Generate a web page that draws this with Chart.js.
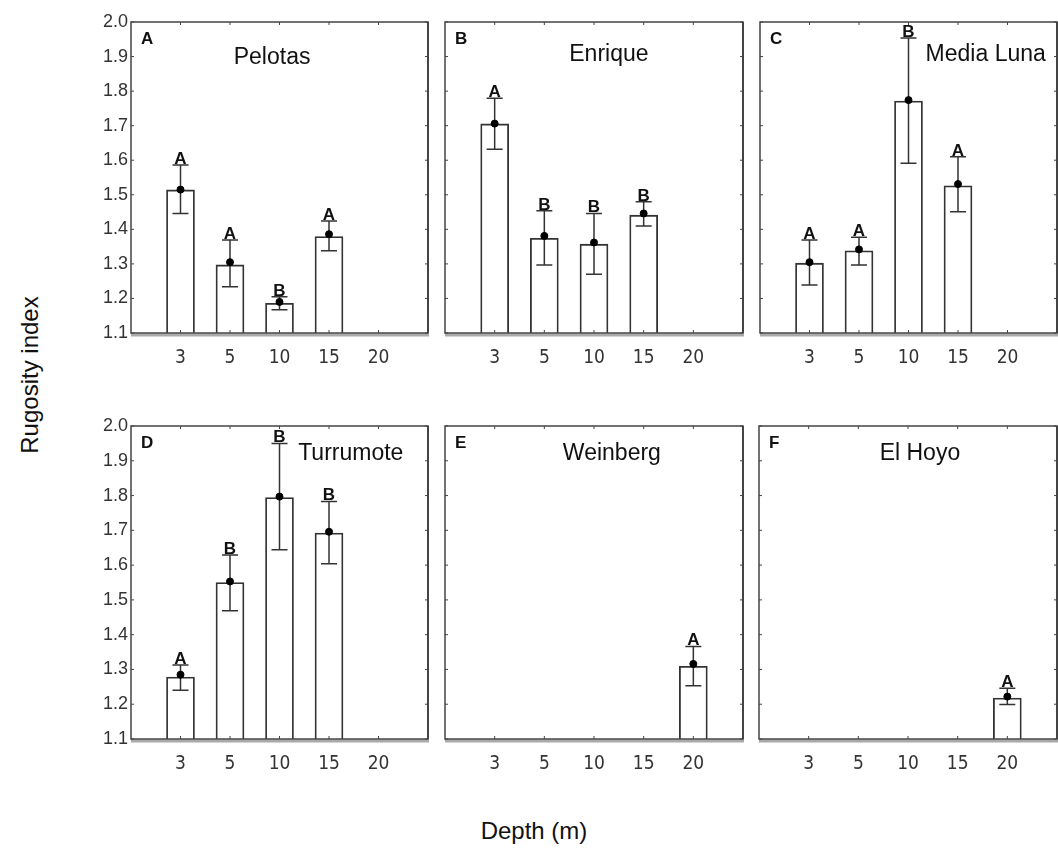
<!DOCTYPE html>
<html>
<head>
<meta charset="utf-8">
<script src="https://cdn.jsdelivr.net/npm/chart.js@4"></script>
<style>
  body { margin: 0; width: 1058px; height: 852px; overflow: hidden; background: #fff; font-family: "Liberation Sans", Arial, sans-serif; color: #111; }
  .panel { position: absolute; }
  #ylab { position: absolute; left: 30px; top: 375px; transform: translate(-50%, -50%) rotate(-90deg); font-size: 24px; white-space: nowrap; }
  #xlab { position: absolute; left: 534px; top: 831px; transform: translate(-50%, -50%); font-size: 24px; white-space: nowrap; }
</style>
</head>
<body>
<div class="panel" id="pA"><canvas id="cA"></canvas></div>
<div class="panel" id="pB"><canvas id="cB"></canvas></div>
<div class="panel" id="pC"><canvas id="cC"></canvas></div>
<div class="panel" id="pD"><canvas id="cD"></canvas></div>
<div class="panel" id="pE"><canvas id="cE"></canvas></div>
<div class="panel" id="pF"><canvas id="cF"></canvas></div>
<div id="ylab">Rugosity index</div>
<div id="xlab">Depth (m)</div>
<script>
// depth slots, with an empty slot at each end
const depthLabels = ["", "3", "5", "10", "15", "20", ""];

// values at depths 3, 5, 10, 15, 20 m
const pelotasMean = [1.514, 1.297, 1.186, 1.379, null];
const pelotasPoint = [1.515, 1.305, 1.190, 1.386, null];
const pelotasUpper = [1.586, 1.369, 1.205, 1.424, null];
const pelotasLower = [1.446, 1.234, 1.167, 1.338, null];
const pelotasGroups = ["A", "A", "B", "A", ""];

const enriqueMean = [1.705, 1.374, 1.357, 1.441, null];
const enriquePoint = [1.706, 1.381, 1.362, 1.446, null];
const enriqueUpper = [1.779, 1.454, 1.446, 1.480, null];
const enriqueLower = [1.632, 1.297, 1.270, 1.410, null];
const enriqueGroups = ["A", "B", "B", "B", ""];

const mediaLunaMean = [1.302, 1.338, 1.771, 1.526, null];
const mediaLunaPoint = [1.305, 1.342, 1.774, 1.531, null];
const mediaLunaUpper = [1.369, 1.377, 1.954, 1.610, null];
const mediaLunaLower = [1.239, 1.297, 1.591, 1.451, null];
const mediaLunaGroups = ["A", "A", "B", "A", ""];

const turrumoteMean = [1.278, 1.550, 1.794, 1.692, null];
const turrumotePoint = [1.285, 1.553, 1.797, 1.696, null];
const turrumoteUpper = [1.313, 1.629, 1.950, 1.783, null];
const turrumoteLower = [1.240, 1.469, 1.644, 1.604, null];
const turrumoteGroups = ["A", "B", "B", "B", ""];

const weinbergMean = [null, null, null, null, 1.309];
const weinbergPoint = [null, null, null, null, 1.316];
const weinbergUpper = [null, null, null, null, 1.366];
const weinbergLower = [null, null, null, null, 1.253];
const weinbergGroups = ["", "", "", "", "A"];

const elHoyoMean = [null, null, null, null, 1.218];
const elHoyoPoint = [null, null, null, null, 1.222];
const elHoyoUpper = [null, null, null, null, 1.246];
const elHoyoLower = [null, null, null, null, 1.199];
const elHoyoGroups = ["", "", "", "", "A"];

const pad = (v) => [null, ...v, null];

// plot area of each panel on the page: left, top, right, bottom
const panels = [
  { id: "A", site: "Pelotas", mean: pelotasMean, point: pelotasPoint, upper: pelotasUpper, lower: pelotasLower, groups: pelotasGroups,
    box: [131, 22, 428, 333], yLabels: true, titleX: 0.475, titleY: 36 },
  { id: "B", site: "Enrique", mean: enriqueMean, point: enriquePoint, upper: enriqueUpper, lower: enriqueLower, groups: enriqueGroups,
    box: [445, 22, 743, 333], yLabels: false, titleX: 0.55, titleY: 33 },
  { id: "C", site: "Media Luna", mean: mediaLunaMean, point: mediaLunaPoint, upper: mediaLunaUpper, lower: mediaLunaLower, groups: mediaLunaGroups,
    box: [760, 22, 1057, 333], yLabels: false, titleX: 0.76, titleY: 33 },
  { id: "D", site: "Turrumote", mean: turrumoteMean, point: turrumotePoint, upper: turrumoteUpper, lower: turrumoteLower, groups: turrumoteGroups,
    box: [131, 426, 428, 739], yLabels: true, titleX: 0.74, titleY: 28 },
  { id: "E", site: "Weinberg", mean: weinbergMean, point: weinbergPoint, upper: weinbergUpper, lower: weinbergLower, groups: weinbergGroups,
    box: [445, 426, 743, 739], yLabels: false, titleX: 0.56, titleY: 28 },
  { id: "F", site: "El Hoyo", mean: elHoyoMean, point: elHoyoPoint, upper: elHoyoUpper, lower: elHoyoLower, groups: elHoyoGroups,
    box: [759, 426, 1057, 739], yLabels: false, titleX: 0.54, titleY: 28 },
];

const LEFT = 45, TOP = 15, RIGHT = 5, BOTTOM = 45;

function decoFor(p) {
  return {
    id: "deco",
    afterDatasetDraw(chart, args) {
      if (args.meta.type !== "bar") return;
      const ctx = chart.ctx, x = chart.scales.x, y = chart.scales.y;
      ctx.save();
      ctx.strokeStyle = "#333";
      ctx.lineWidth = 1.5;
      p.upper.forEach((hi, i) => {
        if (hi == null) return;
        const px = x.getPixelForValue(i + 1);
        const yt = y.getPixelForValue(hi);
        const yb = y.getPixelForValue(p.lower[i]);
        ctx.beginPath();
        ctx.moveTo(px, yt); ctx.lineTo(px, yb);
        ctx.moveTo(px - 8, yt); ctx.lineTo(px + 8, yt);
        ctx.moveTo(px - 8, yb); ctx.lineTo(px + 8, yb);
        ctx.stroke();
      });
      ctx.restore();
    },
    afterDraw(chart) {
      const ctx = chart.ctx, a = chart.chartArea, x = chart.scales.x, y = chart.scales.y;
      ctx.save();
      // shadow and frame
      ctx.strokeStyle = "#aaa";
      ctx.lineWidth = 3;
      ctx.beginPath();
      ctx.moveTo(a.left, a.bottom + 2);
      ctx.lineTo(a.right + 1, a.bottom + 2);
      ctx.stroke();
      ctx.strokeStyle = "#444";
      ctx.lineWidth = 1.5;
      ctx.strokeRect(a.left, a.top, a.right - a.left, a.bottom - a.top);
      ctx.lineWidth = 2;
      ctx.beginPath();
      ctx.moveTo(a.right, a.top); ctx.lineTo(a.right, a.bottom);
      ctx.stroke();
      // inward tick marks
      ctx.lineWidth = 1;
      ctx.beginPath();
      for (let i = 1; i <= 5; i++) {
        const px = x.getPixelForValue(i);
        ctx.moveTo(px, a.top); ctx.lineTo(px, a.top + 3);
        ctx.moveTo(px, a.bottom); ctx.lineTo(px, a.bottom - 3);
      }
      y.ticks.forEach((t) => {
        const py = y.getPixelForValue(t.value);
        ctx.moveTo(a.left, py); ctx.lineTo(a.left + 3, py);
        ctx.moveTo(a.right, py); ctx.lineTo(a.right - 3, py);
      });
      ctx.stroke();
      // group letters above error bars
      ctx.fillStyle = "#111";
      ctx.font = "bold 17px 'Liberation Sans', Arial, sans-serif";
      ctx.textAlign = "center";
      ctx.textBaseline = "alphabetic";
      p.groups.forEach((g, i) => {
        if (!g) return;
        ctx.fillText(g, x.getPixelForValue(i + 1), y.getPixelForValue(p.upper[i]) - 1);
      });
      // panel letter and site name
      ctx.textAlign = "left";
      ctx.textBaseline = "middle";
      ctx.font = "bold 17px 'Liberation Sans', Arial, sans-serif";
      ctx.fillText(p.id, a.left + 10, a.top + 17);
      ctx.textAlign = "center";
      ctx.font = "23px 'Liberation Sans', Arial, sans-serif";
      ctx.fillText(p.site, a.left + (a.right - a.left) * p.titleX, a.top + p.titleY);
      ctx.restore();
    },
  };
}

panels.forEach((p) => {
  const [l, t, r, b] = p.box;
  const div = document.getElementById("p" + p.id);
  div.style.left = (l - LEFT) + "px";
  div.style.top = (t - TOP) + "px";
  div.style.width = (r - l + LEFT + RIGHT) + "px";
  div.style.height = (b - t + TOP + BOTTOM) + "px";

  const ctx = document.getElementById("c" + p.id).getContext("2d");
  new Chart(ctx, {
    data: {
      labels: depthLabels,
      datasets: [
        {
          type: "bar",
          data: pad(p.mean),
          base: 1.1,
          backgroundColor: "#fff",
          borderColor: "#333",
          borderWidth: 1.8,
          barThickness: 28,
          order: 2,
        },
        {
          type: "line",
          data: pad(p.point),
          showLine: false,
          pointRadius: 3.5,
          pointBackgroundColor: "#000",
          pointBorderColor: "#000",
          order: 1,
        },
      ],
    },
    options: {
      responsive: true,
      maintainAspectRatio: false,
      animation: false,
      layout: { padding: { top: TOP, right: RIGHT, left: 0, bottom: 0 } },
      plugins: { legend: { display: false }, tooltip: { enabled: false } },
      scales: {
        x: {
          type: "category",
          offset: false,
          grid: { display: false, drawTicks: false },
          border: { display: false },
          ticks: {
            autoSkip: false,
            maxRotation: 0,
            padding: 14,
            color: "#333",
            font: { family: "'Liberation Sans Narrow', 'DejaVu Sans Condensed', 'Liberation Sans'", size: 19 },
          },
          afterFit: (s) => { s.height = BOTTOM; s.paddingLeft = 0; s.paddingRight = 0; },
        },
        y: {
          min: 1.1,
          max: 2.0,
          grid: { display: false, drawTicks: false },
          border: { display: false },
          ticks: {
            display: p.yLabels,
            stepSize: 0.1,
            padding: 3,
            color: "#333",
            font: { family: "'Liberation Sans'", size: 18 },
            callback: (v) => Number(v).toFixed(1),
          },
          afterFit: (s) => { s.width = LEFT; },
        },
      },
    },
    plugins: [decoFor(p)],
  });
});
</script>
</body>
</html>
